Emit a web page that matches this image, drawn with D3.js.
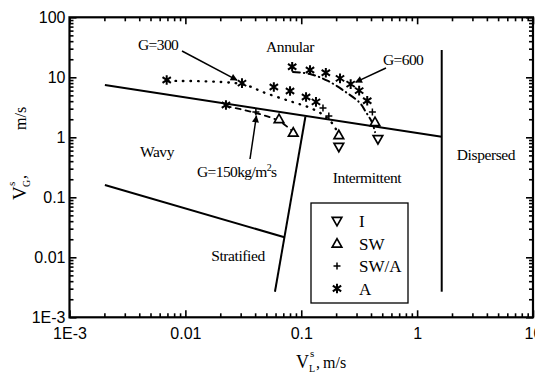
<!DOCTYPE html>
<html>
<head>
<meta charset="utf-8">
<script src="https://cdn.jsdelivr.net/npm/d3@7/dist/d3.min.js"></script>
<style>
  html, body { margin: 0; padding: 0; background: #fff; }
  svg { display: block; }
  .serif { font-family: "Liberation Serif", "Times New Roman", serif; }
  .tick text { font-family: "Liberation Sans", Arial, sans-serif; font-size: 16px; fill: #000; }
</style>
</head>
<body>
<svg id="chart" width="535" height="381"></svg>
<script>
// Axis ticks
const xTickValues = [1e-3, 1e-2, 1e-1, 1, 10];
const xTickLabels = ["1E-3", "0.01", "0.1", "1", "10"];
const yTickValues = [1e-3, 1e-2, 1e-1, 1, 10, 100];
const yTickLabels = ["1E-3", "0.01", "0.1", "1", "10", "100"];

// Flow-pattern transition boundaries [V_L^s, V_G^s]
const wavyAnnularLine = [[0.00202, 7.44], [1.63, 1.02]];
const stratWavyLine = [[0.00202, 0.160], [0.0716, 0.0216]];
const stratInterLine = [[0.0593, 0.00267], [0.1086, 2.20]];
const dispersedLine = [[1.63, 0.00267], [1.63, 28.5]];

// Observations, G = 150 kg/m2s
const g150VL = [0.0224, 0.0406, 0.0643, 0.0853];
const g150VG = [3.45, 2.64, 2.02, 1.20];
const g150Regime = ["A", "SW/A", "SW", "SW"];

// Observations, G = 300 kg/m2s
const g300VL = [0.0069, 0.0308, 0.058, 0.080, 0.110, 0.134, 0.154, 0.173, 0.211, 0.211];
const g300VG = [9.0, 8.0, 6.9, 5.9, 4.7, 3.9, 3.08, 2.26, 1.09, 0.69];
const g300Regime = ["A", "A", "A", "A", "A", "A", "SW/A", "SW/A", "SW", "I"];

// Observations, G = 600 kg/m2s
const g600VL = [0.0835, 0.119, 0.163, 0.216, 0.267, 0.316, 0.371, 0.411, 0.433, 0.459];
const g600VG = [15.0, 13.2, 11.9, 9.6, 7.7, 6.0, 4.07, 2.64, 1.80, 0.93];
const g600Regime = ["A", "A", "A", "A", "A", "A", "A", "SW/A", "SW", "I"];

// Hand-drawn trend curves through each mass-flux series
const g150TrendVL = [0.0224, 0.0406, 0.0643, 0.0853];
const g150TrendVG = [3.32, 2.54, 1.87, 1.23];
const g300TrendVL = [0.0071, 0.0308, 0.0486, 0.080, 0.119, 0.160, 0.195, 0.216];
const g300TrendVG = [8.7, 7.7, 5.5, 4.0, 3.1, 2.26, 1.48, 0.87];
const g600TrendVL = [0.0847, 0.119, 0.170, 0.248, 0.321, 0.361, 0.407, 0.433];
const g600TrendVG = [12.3, 11.35, 8.7, 5.5, 3.73, 2.64, 1.80, 1.22];

const legendKeys = ["I", "SW", "SW/A", "A"];

const svg = d3.select("#chart");
const plotLeft = 69.5, plotRight = 533, plotTop = 17.3, plotBottom = 317.3;

const x = d3.scaleLog().domain([1e-3, 10]).range([plotLeft, plotRight]);
const y = d3.scaleLog().domain([1e-3, 100]).range([plotBottom, plotTop]);

// minor tick positions 2..9 within each decade
function minors(lo, hi) {
  const out = [];
  for (let e = Math.round(Math.log10(lo)); e < Math.round(Math.log10(hi)); e++) {
    for (let k = 2; k <= 9; k++) out.push(k * Math.pow(10, e));
  }
  return out;
}
const xMinor = minors(1e-3, 10);
const yMinor = minors(1e-3, 100);

// Axes: ticks drawn inward on all four sides
function addAxis(axisFn, scale, pos, values, labels, size, showLabels) {
  const ax = axisFn(scale).tickValues(values).tickSizeInner(size).tickSizeOuter(0)
    .tickFormat((d, i) => showLabels ? labels[i] : "");
  const g = svg.append("g").attr("transform", pos).call(ax);
  g.select(".domain").remove();
  g.selectAll(".tick line").attr("stroke", "#000").attr("stroke-width", 1.6);
  return g;
}
const bx = addAxis(d3.axisBottom, x, `translate(0,${plotBottom})`, xTickValues, xTickLabels, -7, true);
bx.selectAll(".tick text").attr("y", 10).attr("dy", "0.71em");
addAxis(d3.axisBottom, x, `translate(0,${plotBottom})`, xMinor, [], -4, false);
addAxis(d3.axisTop, x, `translate(0,${plotTop})`, xTickValues, [], -7, false);
addAxis(d3.axisTop, x, `translate(0,${plotTop})`, xMinor, [], -4, false);
const lyAx = addAxis(d3.axisLeft, y, `translate(${plotLeft},0)`, yTickValues, yTickLabels, -7, true);
lyAx.selectAll(".tick text").attr("x", -4);
addAxis(d3.axisLeft, y, `translate(${plotLeft},0)`, yMinor, [], -4, false);
addAxis(d3.axisRight, y, `translate(${plotRight},0)`, yTickValues, [], -7, false);
addAxis(d3.axisRight, y, `translate(${plotRight},0)`, yMinor, [], -4, false);

// plot frame
svg.append("rect").attr("x", plotLeft).attr("y", plotTop)
  .attr("width", plotRight - plotLeft).attr("height", plotBottom - plotTop)
  .attr("fill", "none").attr("stroke", "#000").attr("stroke-width", 2.2);

// transition boundaries
const line = d3.line().x(d => x(d[0])).y(d => y(d[1]));
[wavyAnnularLine, stratWavyLine, stratInterLine, dispersedLine].forEach(pts => {
  svg.append("path").attr("d", line(pts)).attr("fill", "none")
    .attr("stroke", "#000").attr("stroke-width", 2);
});

// trend curves
const curve = d3.line().x(d => x(d[0])).y(d => y(d[1])).curve(d3.curveCatmullRom.alpha(0.5));
function trend(vl, vg, dash, w) {
  svg.append("path").attr("d", curve(vl.map((v, i) => [v, vg[i]])))
    .attr("fill", "none").attr("stroke", "#000").attr("stroke-width", w)
    .attr("stroke-dasharray", dash).attr("stroke-linecap", "round");
}
trend(g150TrendVL, g150TrendVG, "5,5", 1.8);
trend(g300TrendVL, g300TrendVG, "0.5,7", 2.4);
trend(g600TrendVL, g600TrendVG, "7,4,0.5,4", 2);

// regime markers
function drawMarker(g, kind, cx, cy) {
  const s = 4.8;
  if (kind === "I") {
    g.append("path").attr("d", `M${cx - s},${cy - s * 0.75}L${cx + s},${cy - s * 0.75}L${cx},${cy + s}Z`)
      .attr("fill", "#fff").attr("stroke", "#000").attr("stroke-width", 1.7);
  } else if (kind === "SW") {
    g.append("path").attr("d", `M${cx - s},${cy + s * 0.75}L${cx + s},${cy + s * 0.75}L${cx},${cy - s}Z`)
      .attr("fill", "#fff").attr("stroke", "#000").attr("stroke-width", 1.7);
  } else if (kind === "SW/A") {
    g.append("path").attr("d", `M${cx - 3.5},${cy}H${cx + 3.5}M${cx},${cy - 3.5}V${cy + 3.5}`)
      .attr("stroke", "#000").attr("stroke-width", 1.5);
  } else {
    const r = 4.8;
    g.append("path").attr("d",
      `M${cx},${cy - r}V${cy + r}` +
      `M${cx - r * 0.87},${cy - r * 0.6}L${cx + r * 0.87},${cy + r * 0.6}` +
      `M${cx - r * 0.87},${cy + r * 0.6}L${cx + r * 0.87},${cy - r * 0.6}`)
      .attr("stroke", "#000").attr("stroke-width", 2);
  }
}
const markers = svg.append("g");
[[g150VL, g150VG, g150Regime], [g300VL, g300VG, g300Regime], [g600VL, g600VG, g600Regime]]
  .forEach(([vl, vg, rg]) => vl.forEach((v, i) => drawMarker(markers, rg[i], x(v), y(vg[i]))));

// regime labels
const regionLabels = [
  ["Annular", 290, 52], ["Wavy", 157, 157], ["Intermittent", 367, 183],
  ["Dispersed", 486, 160], ["Stratified", 238, 261]
];
regionLabels.forEach(([t, px, py]) => {
  svg.append("text").attr("class", "serif").attr("x", px).attr("y", py)
    .attr("text-anchor", "middle").attr("font-size", 15.5).attr("letter-spacing", -0.4).text(t);
});

// mass flux annotations with arrows
svg.append("defs").append("marker").attr("id", "ah")
  .attr("viewBox", "0 0 10 10").attr("refX", 9).attr("refY", 5)
  .attr("markerWidth", 9).attr("markerHeight", 7).attr("markerUnits", "userSpaceOnUse")
  .attr("orient", "auto")
  .append("path").attr("d", "M0,0L10,5L0,10Z").attr("fill", "#000");

function arrow(x1, y1, x2, y2) {
  svg.append("line").attr("x1", x1).attr("y1", y1).attr("x2", x2).attr("y2", y2)
    .attr("stroke", "#000").attr("stroke-width", 1.5).attr("marker-end", "url(#ah)");
}
svg.append("text").attr("class", "serif").attr("x", 138).attr("y", 50)
  .attr("font-size", 15.5).attr("letter-spacing", -0.6).text("G=300");
arrow(182, 51, x(g300VL[1]) - 5, y(g300VG[1]) - 3);

svg.append("text").attr("class", "serif").attr("x", 383).attr("y", 65)
  .attr("font-size", 15.5).attr("letter-spacing", -0.6).text("G=600");
arrow(386, 68, x(g600VL[4]) + 5, y(g600VG[4]) - 2);

const g150Label = svg.append("text").attr("class", "serif").attr("x", 197).attr("y", 177)
  .attr("font-size", 15.5).attr("letter-spacing", -0.6);
g150Label.append("tspan").text("G=150kg/m");
g150Label.append("tspan").attr("font-size", 10).attr("dy", -6).text("2");
g150Label.append("tspan").attr("dy", 6).text("s");
arrow(250, 159, x(g150VL[1]) + 0.5, y(g150VG[1]) + 4);

// legend
const lg = svg.append("g");
lg.append("rect").attr("x", 311).attr("y", 203).attr("width", 97).attr("height", 100)
  .attr("fill", "#fff").attr("stroke", "#000").attr("stroke-width", 1.3);
legendKeys.forEach((k, i) => {
  const cy = 221 + i * 22.5;
  drawMarker(lg, k, 337, cy);
  lg.append("text").attr("class", "serif").attr("x", 359).attr("y", cy + 6)
    .attr("font-size", 17).text(k);
});

// axis titles
const xt = svg.append("g").attr("class", "serif");
xt.append("text").attr("x", 296).attr("y", 368).attr("font-size", 18).text("V");
xt.append("text").attr("x", 309).attr("y", 372).attr("font-size", 10).text("L");
xt.append("text").attr("x", 310).attr("y", 357).attr("font-size", 11).text("s");
xt.append("text").attr("x", 316).attr("y", 368).attr("font-size", 16).text(",");
xt.append("text").attr("x", 323).attr("y", 368).attr("font-size", 16).text("m/s");

const yt = svg.append("g").attr("class", "serif").attr("transform", "translate(26,200) rotate(-90)");
yt.append("text").attr("x", 0).attr("y", 0).attr("font-size", 19).text("V");
yt.append("text").attr("x", 13).attr("y", 4).attr("font-size", 10).text("G");
yt.append("text").attr("x", 14).attr("y", -11).attr("font-size", 11).text("s");
yt.append("text").attr("x", 21).attr("y", 0).attr("font-size", 16).text(",");
yt.append("text").attr("x", 70).attr("y", 0).attr("font-size", 16).text("m/s");
</script>
</body>
</html>
